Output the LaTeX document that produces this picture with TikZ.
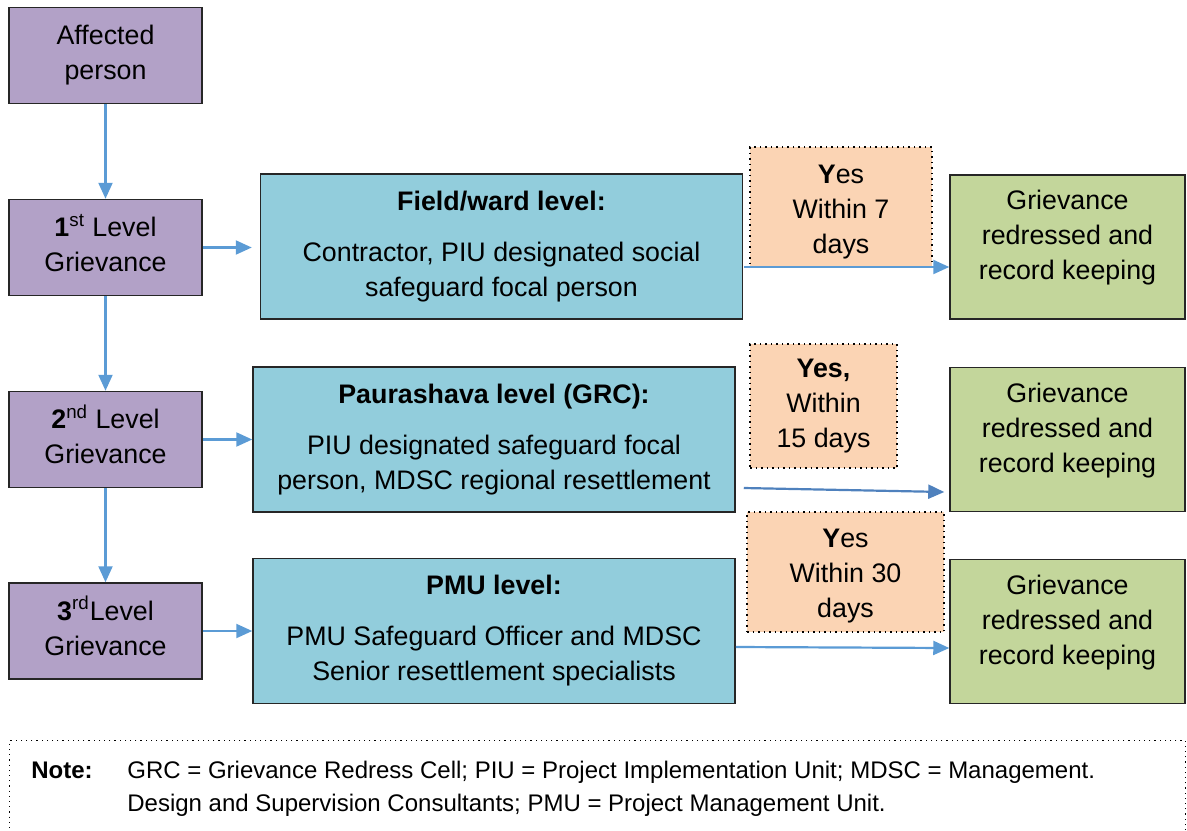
\documentclass[tikz,border=0pt]{standalone}
\usepackage{fontspec}
\setmainfont{Liberation Sans}
\usetikzlibrary{arrows.meta,calc}
\definecolor{purp}{HTML}{B2A1C7}
\definecolor{blu}{HTML}{92CDDC}
\definecolor{grn}{HTML}{C3D69B}
\definecolor{org}{HTML}{FBD4B4}
\definecolor{arrc}{HTML}{5B9BD5}
\definecolor{arrdark}{HTML}{4F81BD}
\newcommand{\sups}[1]{\smash{\textsuperscript{#1}}}
\begin{document}
\begin{tikzpicture}[x=0.5pt,y=-0.5pt,
  box/.style={draw=black!85, line width=0.75pt, align=center, inner sep=0pt,
    font=\fontsize{13.4}{17.5}\selectfont},
  lvl/.style={box, fill=purp, minimum width=96.5pt, minimum height=48pt},
  body/.style={box, fill=blu, minimum width=241pt, minimum height=72.5pt},
  res/.style={box, fill=grn, minimum width=117.5pt, minimum height=72pt, text depth=12pt},
  tag/.style={box, draw=black, dotted, line width=0.6pt, fill=org},
  flow/.style={draw=arrc, line width=1.1pt, -{Triangle[length=8pt,width=7pt]}},
  notetext/.style={anchor=base west, inner sep=0pt, font=\fontsize{12}{16.5}\selectfont},
]
\useasboundingbox (0,0) rectangle (1187,830);
\clip (0,0) rectangle (1187,830);

% level boxes
\node[lvl] (p0) at (105.5,55.5) {Affected\\person};
\node[lvl, text depth=3pt] (p1) at (105.5,247.5) {\textbf{1}\sups{st} Level\\Grievance};
\node[lvl, text depth=3pt] (p2) at (105.5,439.5) {\textbf{2}\sups{nd} Level\\Grievance};
\node[lvl, text depth=3pt] (p3) at (105.5,631) {\textbf{3}\sups{rd}Level\\Grievance};

% body boxes
\node[body] (b1) at (501.5,246.5) {\textbf{Field/ward level:}\\[8pt]Contractor, PIU designated social\\safeguard focal person};
\node[body] (b2) at (494,439.5) {\textbf{Paurashava level (GRC):}\\[8pt]PIU designated safeguard focal\\person, MDSC regional resettlement};
\node[body] (b3) at (494,631) {\textbf{PMU level:}\\[8pt]PMU Safeguard Officer and MDSC\\Senior resettlement specialists};

% result boxes
\node[res] (g1) at (1067.5,247) {Grievance\\redressed and\\record keeping};
\node[res] (g2) at (1067.5,439.5) {Grievance\\redressed and\\record keeping};
\node[res] (g3) at (1067.5,631.5) {Grievance\\redressed and\\record keeping};

% condition tags
\node[tag, minimum width=91pt, minimum height=60pt, text height=49pt] (o1) at (841,207) {\textbf{Y}es\\Within 7\\days};
\node[tag, minimum width=73.5pt, minimum height=62pt] (o2) at (823.5,406) {\textbf{Yes,}\\Within\\15 days};
\node[tag, minimum width=98.5pt, minimum height=60pt, text height=48.5pt] (o3) at (845.5,572) {\textbf{Y}es\\Within 30\\days};

% vertical arrows
\draw[flow] (p0.south) -- (p1.north);
\draw[flow] (p1.south) -- (p2.north);
\draw[flow] (p2.south) -- (p3.north);

% level -> body
\draw[flow] (p1.east) -- ($(p1.east -| b1.west)+(-8,0)$);
\draw[flow] (p2.east) -- (p2.east -| b2.west);
\draw[flow] (p3.east) -- (p3.east -| b3.west);

% body -> result
\draw[flow] ($(b1.east)+(1,20.5)$) -- ($(g1.west)+(0,20)$);
\draw[flow, draw=arrdark] ($(b2.east)+(8,48.5)$) -- ($(g2.west)+(-5,52.5)$);
\draw[flow] ($(b3.east)+(0,16)$) -- ($(g3.west)+(0,16.5)$);

% note
\node[draw=black, dotted, line width=0.6pt, anchor=north west, minimum width=588pt,
  minimum height=60pt, inner sep=0pt] (note) at (9,740) {};
\node[notetext] (notelabel) at (31,778) {\textbf{Note:}};
\node[notetext] (noteline1) at (127,778) {GRC = Grievance Redress Cell; PIU = Project Implementation Unit; MDSC = Management.};
\node[notetext] (noteline2) at (127,811) {Design and Supervision Consultants; PMU = Project Management Unit.};
\end{tikzpicture}
\end{document}
